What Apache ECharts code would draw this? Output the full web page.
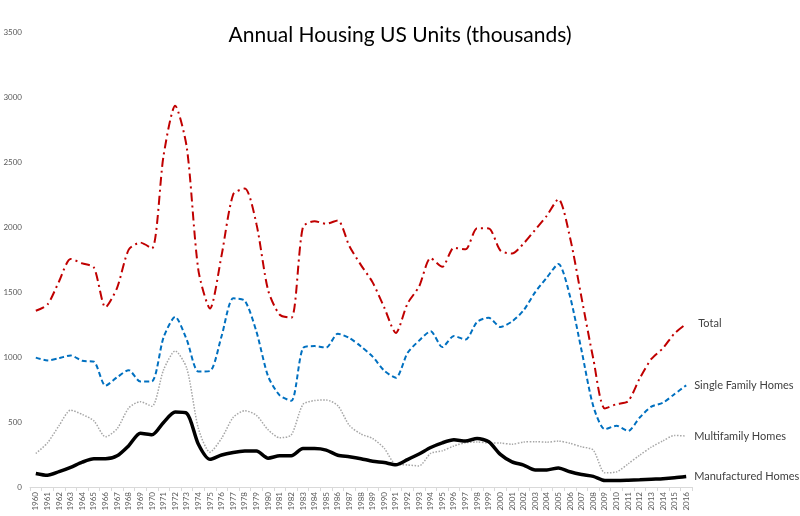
<!DOCTYPE html>
<html>
<head>
<meta charset="utf-8">
<title>Annual Housing US Units</title>
<script src="https://cdn.jsdelivr.net/npm/echarts@6/dist/echarts.min.js"></script>
<style>
  html, body { margin: 0; padding: 0; background: #fff; }
  #chart { width: 800px; height: 516px; }
</style>
</head>
<body>
<div id="chart"></div>
<script>
// years on the x axis
var years = [];
for (var y = 1960; y <= 2016; y++) years.push(String(y));

// values in thousands of units
var total = [1356, 1403, 1581, 1754, 1720, 1689, 1382, 1532, 1826, 1880, 1835, 2549, 2933, 2612, 1667, 1373,
  1784, 2252, 2296, 2022, 1514, 1325, 1302, 1999, 2045, 2025, 2050, 1853, 1707, 1574, 1381, 1185,
  1410, 1542, 1761, 1694, 1840, 1828, 1990, 1989, 1819, 1796, 1873, 1979, 2087, 2215, 1918, 1451,
  987, 604, 637, 660, 836, 985, 1068, 1182, 1255];
var singleFamily = [995, 974, 991, 1012, 971, 964, 779, 844, 899, 811, 813, 1151, 1309, 1132, 888, 892,
  1162, 1451, 1433, 1194, 852, 705, 663, 1068, 1084, 1072, 1179, 1146, 1081, 1003, 895, 840,
  1030, 1126, 1198, 1076, 1161, 1134, 1271, 1302, 1231, 1273, 1359, 1499, 1611, 1716, 1465, 1046,
  622, 445, 471, 431, 535, 618, 648, 715, 782];
var multiFamily = [258, 339, 472, 591, 558, 509, 386, 448, 608, 656, 621, 901, 1047, 913, 450, 268,
  375, 536, 587, 551, 440, 379, 400, 635, 665, 669, 626, 474, 407, 373, 298, 174,
  170, 162, 259, 278, 316, 340, 346, 339, 338, 329, 346, 349, 345, 353, 336, 309,
  284, 109, 116, 178, 245, 307, 355, 397, 392];
var manufactured = [104, 90, 118, 151, 191, 217, 217, 240, 318, 413, 401, 497, 576, 567, 329, 213,
  246, 265, 276, 277, 222, 241, 240, 296, 296, 284, 244, 233, 218, 198, 188, 171,
  211, 254, 304, 340, 363, 354, 373, 348, 251, 193, 169, 131, 131, 147, 117, 96,
  82, 50, 50, 52, 55, 60, 64, 71, 81];

var labelColor = "#404040";
var fontFamily = "Lato, 'Open Sans', sans-serif";

// helper for the four lines, each labelled at its right end
function lineSeries(name, data, style, labelGap) {
  return {
    name: name,
    type: "line",
    data: data,
    smooth: 0.25,
    symbol: "none",
    lineStyle: style,
    endLabel: {
      show: true,
      formatter: name,
      distance: labelGap,
      color: labelColor,
      fontSize: 11,
      fontFamily: fontFamily
    },
    animation: false
  };
}

var myChart = echarts.init(document.getElementById("chart"));
var option = {
  backgroundColor: "#ffffff",
  title: {
    text: "Annual Housing US Units (thousands)",
    left: "center",
    top: 20,
    textStyle: {
      fontFamily: fontFamily,
      fontWeight: "normal",
      fontSize: 21,
      color: "#000000"
    }
  },
  grid: {
    left: 30,
    right: 108,
    top: 32,
    bottom: 29
  },
  xAxis: {
    type: "category",
    data: years,
    boundaryGap: true,
    axisLine: { lineStyle: { color: "#d9d9d9" } },
    axisTick: { show: true, length: 4, lineStyle: { color: "#d9d9d9" } },
    axisLabel: {
      interval: 0,
      rotate: 90,
      fontSize: 8,
      color: "#595959",
      margin: 5,
      fontFamily: fontFamily
    }
  },
  yAxis: {
    type: "value",
    min: 0,
    max: 3500,
    interval: 500,
    axisLine: { show: false },
    axisTick: { show: false },
    splitLine: { show: false },
    axisLabel: {
      fontSize: 8,
      color: "#595959",
      margin: 8,
      fontFamily: fontFamily,
      formatter: function (v) { return String(v); }
    }
  },
  series: [
    lineSeries("Total", total, { color: "#c00000", width: 2, type: [9, 4, 2, 4] }, 12),
    lineSeries("Single Family Homes", singleFamily, { color: "#0070c0", width: 2, type: [5, 3] }, 8),
    lineSeries("Multifamily Homes", multiFamily, { color: "#a6a6a6", width: 1.5, type: [1.5, 1.5] }, 8),
    lineSeries("Manufactured Homes", manufactured, { color: "#000000", width: 3.5, type: "solid" }, 8)
  ]
};
myChart.setOption(option);
</script>
</body>
</html>
